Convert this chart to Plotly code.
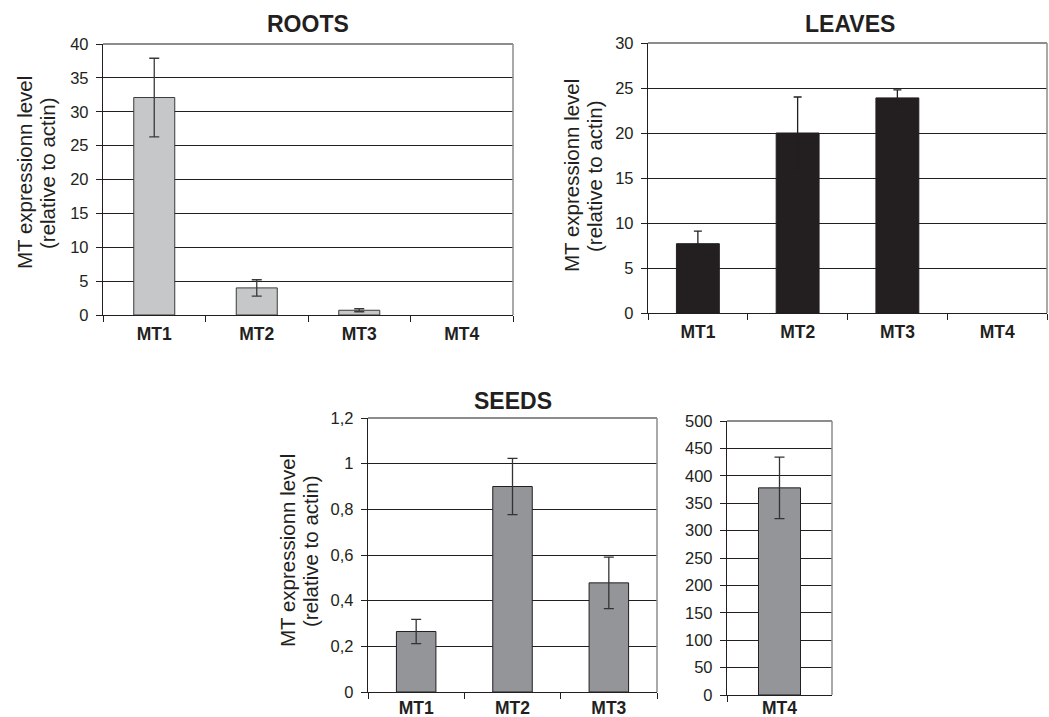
import plotly.graph_objects as go

# ---------------- data ----------------
categories = ["MT1", "MT2", "MT3", "MT4"]
roots_values = [32.1, 4.0, 0.7, None]
roots_err = [5.8, 1.2, 0.22, 0.0]
leaves_values = [7.7, 20.0, 23.9, None]
leaves_err = [1.4, 4.0, 0.9, 0.0]
seeds_categories = ["MT1", "MT2", "MT3"]
seeds_values = [0.265, 0.90, 0.478]
seeds_err = [0.053, 0.123, 0.113]
seeds_mt4_categories = ["MT4"]
seeds_mt4_values = [378]
seeds_mt4_err = [56]

roots_ticks = [0, 5, 10, 15, 20, 25, 30, 35, 40]
leaves_ticks = [0, 5, 10, 15, 20, 25, 30]
seeds_ticks = [0, 0.2, 0.4, 0.6, 0.8, 1.0, 1.2]
seeds_ticktext = ["0", "0,2", "0,4", "0,6", "0,8", "1", "1,2"]
mt4_ticks = [0, 50, 100, 150, 200, 250, 300, 350, 400, 450, 500]

W, H = 1049, 717
FONT = "Liberation Sans, Arial, Helvetica, sans-serif"
TXT = "#231f20"


def px(x):
    return x / W


def py(y):
    return 1 - y / H


fig = go.Figure()

fig.add_trace(go.Bar(
    x=categories, y=roots_values, width=0.4,
    marker=dict(color="#c6c7c8", line=dict(color="#3a3a3a", width=1)),
    error_y=dict(type="data", array=roots_err, visible=True, color="#3a3a3a",
                 thickness=1.3, width=5),
    xaxis="x", yaxis="y", showlegend=False))

fig.add_trace(go.Bar(
    x=categories, y=leaves_values, width=0.43,
    marker=dict(color="#231f20", line=dict(color="#231f20", width=1)),
    error_y=dict(type="data", array=leaves_err, visible=True, color="#231f20",
                 thickness=1.3, width=4),
    xaxis="x2", yaxis="y2", showlegend=False))

fig.add_trace(go.Bar(
    x=seeds_categories, y=seeds_values, width=0.41,
    marker=dict(color="#939598", line=dict(color="#231f20", width=1)),
    error_y=dict(type="data", array=seeds_err, visible=True, color="#333333",
                 thickness=1.3, width=5),
    xaxis="x3", yaxis="y3", showlegend=False))

fig.add_trace(go.Bar(
    x=seeds_mt4_categories, y=seeds_mt4_values, width=0.4,
    marker=dict(color="#939598", line=dict(color="#231f20", width=1)),
    error_y=dict(type="data", array=seeds_mt4_err, visible=True, color="#333333",
                 thickness=1.3, width=5),
    xaxis="x4", yaxis="y4", showlegend=False))


def xaxis_cfg(dom, anchor, cats, standoff):
    return dict(
        domain=dom, anchor=anchor, type="category",
        categoryorder="array", categoryarray=cats,
        range=[-0.5, len(cats) - 0.5],
        tickmode="array", tickvals=cats, ticktext=["<b>%s</b>" % c for c in cats],
        tickson="boundaries", ticks="outside", ticklen=6, tickwidth=1.2,
        tickcolor=TXT, showline=True, linecolor=TXT, linewidth=1.3,
        showgrid=False, zeroline=False, ticklabelstandoff=standoff,
        tickfont=dict(family=FONT, size=17.5, color=TXT),
        fixedrange=True,
    )


def yaxis_cfg(dom, anchor, rng, tickvals, ticktext=None):
    d = dict(
        domain=dom, anchor=anchor, range=rng,
        tickmode="array", tickvals=tickvals,
        ticks="outside", ticklen=6, tickwidth=1.2, tickcolor=TXT,
        showline=True, linecolor=TXT, linewidth=1.3,
        showgrid=True, gridcolor="#231f20", gridwidth=1.2,
        zeroline=False, ticklabelstandoff=4,
        tickfont=dict(family=FONT, size=16.5, color=TXT),
        fixedrange=True,
    )
    if ticktext is not None:
        d["ticktext"] = ticktext
    return d


# panel geometry (pixels)
roots_x = [px(103), px(513)]
roots_y = [py(315), py(44)]
leaves_x = [px(648), px(1047)]
leaves_y = [py(313), py(43)]
seeds_x = [px(368), px(657)]
seeds_y = [py(692), py(418)]
mt4_x = [px(727), px(832)]
mt4_y = [py(695), py(421)]

fig.update_layout(
    width=W, height=H, template="none",
    paper_bgcolor="white", plot_bgcolor="white",
    margin=dict(l=0, r=0, t=0, b=0),
    font=dict(family=FONT, color=TXT),
    bargap=0.6,
    xaxis=xaxis_cfg(roots_x, "y", categories, 3),
    yaxis=yaxis_cfg(roots_y, "x", [0, 40], roots_ticks),
    xaxis2=xaxis_cfg(leaves_x, "y2", categories, 3),
    yaxis2=yaxis_cfg(leaves_y, "x2", [0, 30], leaves_ticks),
    xaxis3=xaxis_cfg(seeds_x, "y3", seeds_categories, 0),
    yaxis3=yaxis_cfg(seeds_y, "x3", [0, 1.2], seeds_ticks, seeds_ticktext),
    xaxis4=xaxis_cfg(mt4_x, "y4", seeds_mt4_categories, -3),
    yaxis4=yaxis_cfg(mt4_y, "x4", [0, 500], mt4_ticks),
)

# gray plot-area border (top and right)
shapes = []
for xr, yr in [("x", "y"), ("x2", "y2"), ("x3", "y3"), ("x4", "y4")]:
    shapes.append(dict(type="line", xref=xr + " domain", yref=yr + " domain",
                       x0=0, x1=1, y0=1, y1=1, line=dict(color="#8c8c8c", width=1.8),
                       layer="above"))
    shapes.append(dict(type="line", xref=xr + " domain", yref=yr + " domain",
                       x0=1, x1=1, y0=0, y1=1, line=dict(color="#8c8c8c", width=1.5),
                       layer="above"))
fig.update_layout(shapes=shapes)

annotations = []
# titles
for text, x, y in [("ROOTS", 308, 24), ("LEAVES", 850, 24), ("SEEDS", 513, 401)]:
    annotations.append(dict(text="<b>%s</b>" % text, x=px(x), y=py(y), xref="paper",
                            yref="paper", showarrow=False, xanchor="center",
                            yanchor="middle", font=dict(family=FONT, size=23, color=TXT)))
# y titles
for (x1, x2, yc) in [(24, 47, 173), (572, 595, 176), (287, 310, 551)]:
    annotations.append(dict(text="MT expressionn level", x=px(x1), y=py(yc),
                            xref="paper", yref="paper", showarrow=False, textangle=-90,
                            xanchor="center", yanchor="middle",
                            font=dict(family=FONT, size=20.5, color=TXT)))
    annotations.append(dict(text="(relative to actin)", x=px(x2), y=py(yc),
                            xref="paper", yref="paper", showarrow=False, textangle=-90,
                            xanchor="center", yanchor="middle",
                            font=dict(family=FONT, size=20.5, color=TXT)))
fig.update_layout(annotations=annotations)

fig.write_html("out.html",
               config={"displayModeBar": False},
               post_script="document.body.style.margin='0px';document.body.style.overflow='hidden';")
